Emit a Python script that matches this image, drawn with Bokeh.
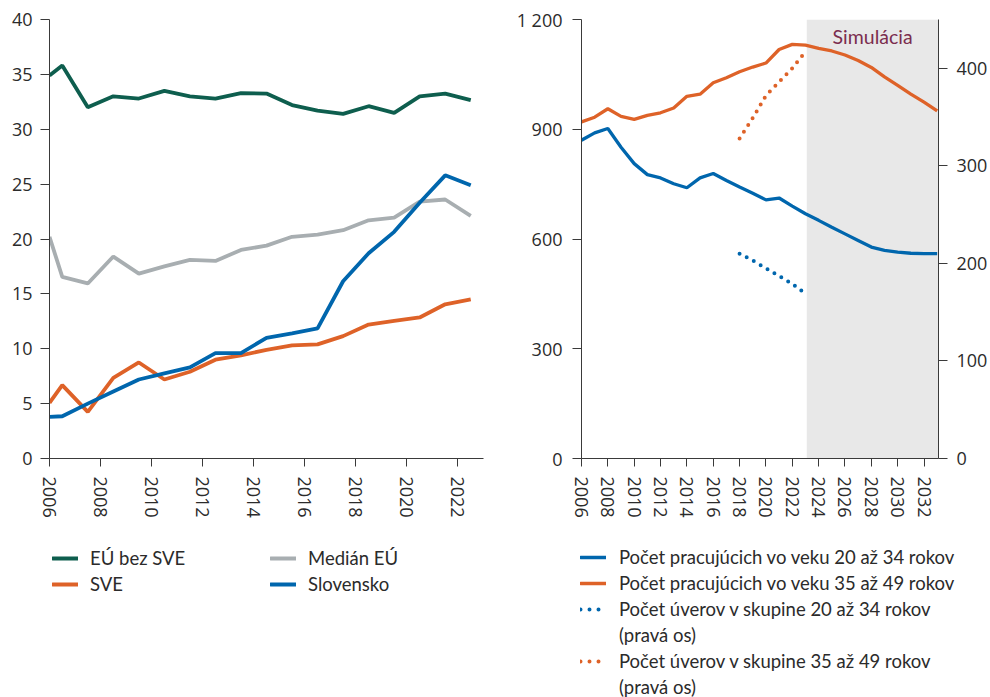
from bokeh.plotting import figure
from bokeh.models import (Range1d, LinearAxis, FixedTicker, BoxAnnotation, Label,
                          Legend, LegendItem)
from bokeh.layouts import row, column
from bokeh.embed import file_html
from bokeh.resources import INLINE

# ---------------- data: left chart ----------------
x_left = [2006.0, 2006.5, 2007.5, 2008.5, 2009.5, 2010.5, 2011.5, 2012.5, 2013.5,
          2014.5, 2015.5, 2016.5, 2017.5, 2018.5, 2019.5, 2020.5, 2021.5, 2022.5]
eu_bez_sve = [34.9, 35.8, 32.0, 33.0, 32.8, 33.5, 33.0, 32.8, 33.3,
              33.25, 32.2, 31.7, 31.4, 32.1, 31.5, 33.0, 33.25, 32.65]
median_eu = [20.2, 16.55, 15.95, 18.4, 16.85, 17.5, 18.1, 18.0, 19.0,
             19.4, 20.2, 20.4, 20.8, 21.7, 21.95, 23.4, 23.6, 22.1]
sve = [5.07, 6.68, 4.25, 7.35, 8.75, 7.2, 7.9, 9.0, 9.4,
       9.9, 10.3, 10.4, 11.15, 12.2, 12.55, 12.85, 14.05, 14.5]
slovensko = [3.8, 3.85, 5.0, 6.1, 7.2, 7.75, 8.3, 9.6, 9.6,
             11.0, 11.4, 11.85, 16.15, 18.7, 20.65, 23.3, 25.8, 24.9]
left_xticks = [2006, 2008, 2010, 2012, 2014, 2016, 2018, 2020, 2022]
left_yticks = [0, 5, 10, 15, 20, 25, 30, 35, 40]

# ---------------- data: right chart ----------------
years_right = list(range(2006, 2034))
pracujuci_20_34 = [870, 890, 902, 851, 806, 776, 767, 751, 740, 767, 779, 760, 742, 725,
                   707, 712, 690, 669, 651, 632, 614, 596, 578, 569, 564, 561, 560, 560]
pracujuci_35_49 = [920, 933, 956, 935, 927, 938, 945, 958, 990, 996, 1027, 1041, 1057, 1070,
                   1081, 1118, 1132, 1130, 1121, 1114, 1103, 1088, 1069, 1043, 1020, 996, 974, 950]
years_uvery = [2018, 2019, 2020, 2021, 2022, 2023]
uvery_20_34 = [210, 203, 195, 187, 179, 169]
uvery_35_49 = [328, 349, 372, 386, 400, 417]
right_xticks = list(range(2006, 2033, 2))
right_yticks_left = [0, 300, 600, 900, 1200]
right_yticks_right = [0, 100, 200, 300, 400]
simulation_start = 2023.1
simulation_end = 2033.1

GREEN = "#0E5E4E"
GRAY = "#A8AEB1"
ORANGE = "#DE6228"
BLUE = "#0066AD"
MAROON = "#7B2D4E"
AXIS = "#3a3a3a"
TEXT = "#2b2b2b"
TICK_FONT = "Open Sans"
TICK_SIZE = "18px"
LEG_FONT = "Lato"
LEG_SIZE = "18.5px"

# legend swatch renderers get points lying outside the legend figure's range
OFF = [-10, -9]


def style_axis(ax, tick_out=9, standoff=8, size=TICK_SIZE):
    ax.axis_line_color = AXIS
    ax.axis_line_width = 1
    ax.major_tick_line_color = AXIS
    ax.minor_tick_line_color = None
    ax.major_tick_in = 0
    ax.major_tick_out = tick_out
    ax.major_label_standoff = standoff
    ax.major_label_text_font = TICK_FONT
    ax.major_label_text_font_size = size
    ax.major_label_text_color = TEXT


def make_legend(items, loc, row_h=26, standoff=12):
    return Legend(items=items, location=loc, label_text_font=LEG_FONT,
                  label_text_font_size=LEG_SIZE, label_text_color=TEXT,
                  glyph_width=26, glyph_height=row_h, label_height=row_h,
                  label_standoff=standoff, spacing=0, padding=0, margin=0,
                  border_line_color=None, background_fill_alpha=0)


def legend_fig(w, h):
    f = figure(frame_width=w, frame_height=h, x_range=Range1d(0, 1), y_range=Range1d(0, 1),
               x_axis_type=None, y_axis_type=None, output_backend="svg",
               toolbar_location=None, min_border=0)
    f.outline_line_color = None
    f.grid.visible = False
    return f


TOP_H = 518      # height of chart figures
LEG_H = 178      # height of legend figures

# ---------------- left figure ----------------
p1 = figure(frame_width=434, frame_height=439, x_range=Range1d(2006, 2023),
            y_range=Range1d(0, 40), output_backend="svg", toolbar_location=None,
            min_border_left=49, min_border_right=17, min_border_top=19,
            min_border_bottom=TOP_H - 19 - 439)
p1.outline_line_color = None
p1.grid.visible = False

style_axis(p1.yaxis[0], tick_out=9, standoff=8)
p1.yaxis[0].ticker = FixedTicker(ticks=left_yticks)
style_axis(p1.xaxis[0], tick_out=8, standoff=10)
p1.xaxis[0].ticker = FixedTicker(ticks=left_xticks)
p1.xaxis[0].major_label_orientation = "vertical"

p1.line(x_left, eu_bez_sve, line_color=GREEN, line_width=3.8)
p1.line(x_left, median_eu, line_color=GRAY, line_width=3.8)
p1.line(x_left, sve, line_color=ORANGE, line_width=3.8)
p1.line(x_left, slovensko, line_color=BLUE, line_width=3.8)

# legend for left chart
lf1 = legend_fig(500, LEG_H)
lg_green = lf1.line(OFF, OFF, line_color=GREEN, line_width=3.8, line_cap="round")
lg_orange = lf1.line(OFF, OFF, line_color=ORANGE, line_width=3.8, line_cap="round")
lg_gray = lf1.line(OFF, OFF, line_color=GRAY, line_width=3.8, line_cap="round")
lg_blue = lf1.line(OFF, OFF, line_color=BLUE, line_width=3.8, line_cap="round")
# rows centered at y=555.5 and 581.5 of page -> legend top at 542.5
leg1_bottom = LEG_H - (542.5 - TOP_H + 2 * 26)
lf1.add_layout(make_legend([LegendItem(label="EÚ bez SVE", renderers=[lg_green]),
                            LegendItem(label="SVE", renderers=[lg_orange])],
                           (52, leg1_bottom)))
lf1.add_layout(make_legend([LegendItem(label="Medián EÚ", renderers=[lg_gray]),
                            LegendItem(label="Slovensko", renderers=[lg_blue])],
                           (270, leg1_bottom)))

# ---------------- right figure ----------------
p2 = figure(frame_width=357, frame_height=439, x_range=Range1d(2006, 2033.1),
            y_range=Range1d(0, 1200), output_backend="svg", toolbar_location=None,
            min_border_left=81, min_border_right=51, min_border_top=19,
            min_border_bottom=TOP_H - 19 - 439)
p2.extra_y_ranges = {"right": Range1d(0, 450)}
p2.outline_line_color = None
p2.grid.visible = False

style_axis(p2.yaxis[0], tick_out=9, standoff=10)
p2.yaxis[0].ticker = FixedTicker(ticks=right_yticks_left)
p2.yaxis[0].major_label_overrides = {1200: "1 200"}
style_axis(p2.xaxis[0], tick_out=8, standoff=10)
p2.xaxis[0].ticker = FixedTicker(ticks=right_xticks)
p2.xaxis[0].major_label_orientation = "vertical"

ax_r = LinearAxis(y_range_name="right", ticker=FixedTicker(ticks=right_yticks_right))
style_axis(ax_r, tick_out=9, standoff=9)
p2.add_layout(ax_r, "right")

sim_box = BoxAnnotation(left=simulation_start, right=simulation_end, fill_color="#E8E8E8",
                        fill_alpha=1, line_color=None, level="underlay")
p2.add_layout(sim_box)
p2.add_layout(Label(x=(simulation_start + simulation_end) / 2, y=1153, text="Simulácia",
                    text_align="center", text_baseline="middle", text_font=LEG_FONT,
                    text_font_size="19.5px", text_color=MAROON))

p2.line(years_right, pracujuci_20_34, line_color=BLUE, line_width=3.3)
p2.line(years_right, pracujuci_35_49, line_color=ORANGE, line_width=3.3)
p2.line(years_uvery, uvery_20_34, y_range_name="right", line_color=BLUE,
        line_width=4, line_dash="0 8", line_cap="round")
p2.line(years_uvery, uvery_35_49, y_range_name="right", line_color=ORANGE,
        line_width=4, line_dash="0 8", line_cap="round")

# legend for right chart
lf2 = legend_fig(489, LEG_H)
l2_blue = lf2.line(OFF, OFF, line_color=BLUE, line_width=3.3, line_cap="round")
l2_orange = lf2.line(OFF, OFF, line_color=ORANGE, line_width=3.3, line_cap="round")
l2_blue_dot = lf2.line(OFF, OFF, line_color=BLUE, line_width=4, line_dash="0 9",
                       line_cap="round")
l2_orange_dot = lf2.line(OFF, OFF, line_color=ORANGE, line_width=4, line_dash="0 9",
                         line_cap="round")
l2_blank = lf2.line(OFF, OFF, line_alpha=0)
ROW2 = 26
FIRST2 = 555
leg2_bottom = LEG_H - (FIRST2 - ROW2 / 2 - TOP_H + 6 * ROW2)
lf2.add_layout(make_legend([
    LegendItem(label="Počet pracujúcich vo veku 20 až 34 rokov", renderers=[l2_blue]),
    LegendItem(label="Počet pracujúcich vo veku 35 až 49 rokov", renderers=[l2_orange]),
    LegendItem(label="Počet úverov v skupine 20 až 34 rokov", renderers=[l2_blue_dot]),
    LegendItem(label="(pravá os)", renderers=[l2_blank]),
    LegendItem(label="Počet úverov v skupine 35 až 49 rokov", renderers=[l2_orange_dot]),
    LegendItem(label="(pravá os)", renderers=[l2_blank]),
], (80, leg2_bottom), row_h=ROW2, standoff=13))

layout = row(column(p1, lf1), column(p2, lf2))
open("out.html", "w").write(file_html(layout, INLINE))
